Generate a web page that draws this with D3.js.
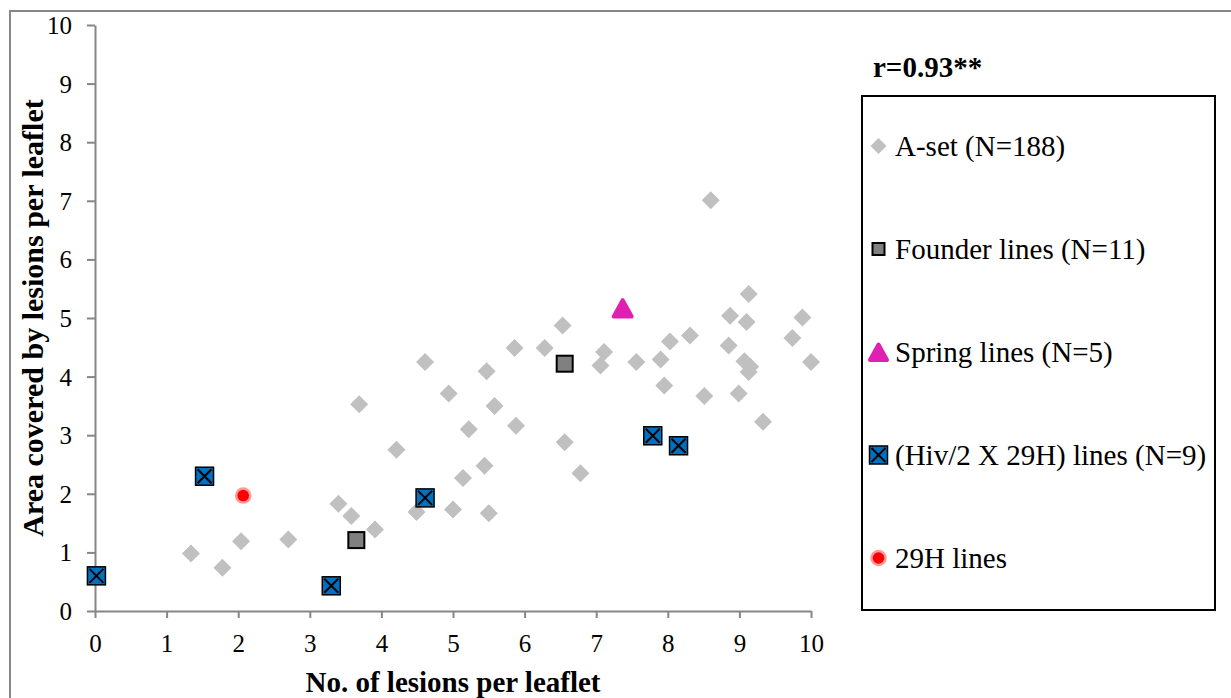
<!DOCTYPE html>
<html>
<head>
<meta charset="utf-8">
<script src="https://cdn.jsdelivr.net/npm/d3@7"></script>
<style>
  html, body { margin: 0; padding: 0; background: #fff; }
  svg { display: block; }
  text { font-family: "Liberation Serif", "Times New Roman", serif; fill: #000; }
</style>
</head>
<body>
<svg id="chart" width="1231" height="698"></svg>
<script>
// A-set lines: [lesions per leaflet, area covered]
const aSet = [
  [1.34, 0.98], [1.78, 0.74], [2.04, 1.19], [2.70, 1.22], [3.40, 1.83],
  [3.58, 1.62], [3.69, 3.53], [3.91, 1.39], [4.21, 2.75], [4.49, 1.69],
  [4.61, 4.25], [4.94, 3.71], [5.00, 1.73], [5.14, 2.27], [5.22, 3.10],
  [5.44, 2.48], [5.47, 4.09], [5.50, 1.67], [5.58, 3.50], [5.86, 4.49],
  [5.88, 3.16], [6.28, 4.49], [6.53, 4.87], [6.56, 2.88], [6.78, 2.35],
  [7.06, 4.19], [7.11, 4.42], [7.56, 4.25], [7.90, 4.29], [7.95, 3.85],
  [8.03, 4.60], [8.31, 4.70], [8.51, 3.67], [8.60, 7.01], [8.85, 4.53],
  [8.87, 5.04], [8.99, 3.71], [9.07, 4.26], [9.10, 4.93], [9.13, 4.08],
  [9.13, 5.41], [9.15, 4.17], [9.33, 3.23], [9.74, 4.66], [9.88, 5.01],
  [10.00, 4.25]
];
const founderLines = [[3.65, 1.21], [6.56, 4.22]];
const springLines = [[7.37, 5.17]];
const hivLines = [[0.02, 0.60], [1.53, 2.30], [3.30, 0.43], [4.61, 1.93], [7.79, 2.99], [8.15, 2.82]];
const h29Lines = [[2.07, 1.97]];

const xTicks = [0, 1, 2, 3, 4, 5, 6, 7, 8, 9, 10];
const yTicks = [0, 1, 2, 3, 4, 5, 6, 7, 8, 9, 10];

const legendLabels = [
  "A-set (N=188)",
  "Founder lines (N=11)",
  "Spring lines (N=5)",
  "(Hiv/2 X 29H) lines (N=9)",
  "29H lines"
];
const xTitle = "No. of lesions per leaflet";
const yTitle = "Area covered by lesions per leaflet";
const statLabel = "r=0.93**";

const svg = d3.select("#chart");
const axisGray = "#868686";

// outer chart frame (continues past the right and bottom edges)
svg.append("rect")
  .attr("x", 10).attr("y", 11)
  .attr("width", 1260).attr("height", 720)
  .attr("fill", "none").attr("stroke", axisGray).attr("stroke-width", 2);

const x = d3.scaleLinear().domain([0, 10]).range([95, 811]);
const y = d3.scaleLinear().domain([0, 10]).range([611, 25]);

// axes
const xAxis = svg.append("g").attr("transform", `translate(0,${y(0)})`)
  .call(d3.axisBottom(x).tickValues(xTicks).tickSize(7).tickSizeOuter(0).tickPadding(16));
const yAxis = svg.append("g").attr("transform", `translate(${x(0)},0)`)
  .call(d3.axisLeft(y).tickValues(yTicks).tickSize(8).tickSizeOuter(0).tickPadding(15));

[xAxis, yAxis].forEach(g => {
  g.select(".domain").attr("stroke", axisGray).attr("stroke-width", 2);
  g.selectAll(".tick line").attr("stroke", axisGray).attr("stroke-width", 2);
  g.selectAll(".tick text")
    .attr("fill", "#000")
    .style("font-family", '"Liberation Serif", "Times New Roman", serif')
    .style("font-size", "25px");
});
xAxis.selectAll(".tick text").attr("dy", "0.71em");
yAxis.selectAll(".tick text").attr("dy", "0.34em");

// axis titles
svg.append("text")
  .attr("x", (x(0) + x(10)) / 2).attr("y", 692)
  .attr("text-anchor", "middle")
  .style("font-size", "29px").style("font-weight", "bold")
  .text(xTitle);
svg.append("text")
  .attr("transform", `translate(43,${(y(0) + y(10)) / 2}) rotate(-90)`)
  .attr("text-anchor", "middle")
  .style("font-size", "30px").style("font-weight", "bold")
  .text(yTitle);

// marker drawing helpers
function diamond(g, cx, cy, r) {
  g.append("path")
    .attr("d", `M${cx},${cy - r}L${cx + r},${cy}L${cx},${cy + r}L${cx - r},${cy}Z`)
    .attr("fill", "#c0c0c0");
}
function founder(g, cx, cy, s) {
  g.append("rect")
    .attr("x", cx - s / 2).attr("y", cy - s / 2)
    .attr("width", s).attr("height", s)
    .attr("fill", "#808080").attr("stroke", "#000").attr("stroke-width", 2);
}
function triangle(g, cx, cy, w) {
  const h = w * 0.9;
  g.append("path")
    .attr("d", `M${cx},${cy - h / 2 + 2}L${cx + w / 2 - 2},${cy + h / 2 - 1.5}L${cx - w / 2 + 2},${cy + h / 2 - 1.5}Z`)
    .attr("fill", "#e020b0").attr("stroke", "#e020b0")
    .attr("stroke-width", 4).attr("stroke-linejoin", "round");
}
function hivMark(g, cx, cy, s) {
  const h = s / 2;
  g.append("rect")
    .attr("x", cx - h).attr("y", cy - h)
    .attr("width", s).attr("height", s)
    .attr("fill", "#0070c0").attr("stroke", "#000").attr("stroke-width", 1.5);
  g.append("path")
    .attr("d", `M${cx - h + 2},${cy - h + 2}L${cx + h - 2},${cy + h - 2}M${cx + h - 2},${cy - h + 2}L${cx - h + 2},${cy + h - 2}`)
    .attr("stroke", "#000").attr("stroke-width", 2);
}
function dot(g, cx, cy) {
  g.append("circle").attr("cx", cx).attr("cy", cy).attr("r", 8.3).attr("fill", "#ff9a9a");
  g.append("circle").attr("cx", cx).attr("cy", cy).attr("r", 5.8).attr("fill", "#ff0000");
}

// data marks
const plot = svg.append("g");
aSet.forEach(d => diamond(plot, x(d[0]), y(d[1]), 9));
founderLines.forEach(d => founder(plot, x(d[0]), y(d[1]), 16));
springLines.forEach(d => triangle(plot, x(d[0]), y(d[1]), 22));
hivLines.forEach(d => hivMark(plot, x(d[0]), y(d[1]), 18));
h29Lines.forEach(d => dot(plot, x(d[0]), y(d[1])));

// correlation label
svg.append("text")
  .attr("x", 873).attr("y", 77)
  .style("font-size", "29px").style("font-weight", "bold")
  .text(statLabel);

// legend
const legend = svg.append("g");
legend.append("rect")
  .attr("x", 862).attr("y", 96).attr("width", 353).attr("height", 514)
  .attr("fill", "#fff").attr("stroke", "#000").attr("stroke-width", 2);

const legendTop = 146, legendStep = 103, markX = 878.5;
const legendMarks = [
  (g, cy) => diamond(g, markX, cy, 8),
  (g, cy) => founder(g, markX, cy, 12),
  (g, cy) => triangle(g, markX, cy, 21),
  (g, cy) => hivMark(g, markX, cy, 18),
  (g, cy) => dot(g, markX, cy)
];
legendLabels.forEach((label, i) => {
  const cy = legendTop + i * legendStep;
  legendMarks[i](legend, cy);
  legend.append("text")
    .attr("x", 895).attr("y", cy).attr("dy", "0.35em")
    .style("font-size", "29px")
    .text(label);
});
</script>
</body>
</html>
